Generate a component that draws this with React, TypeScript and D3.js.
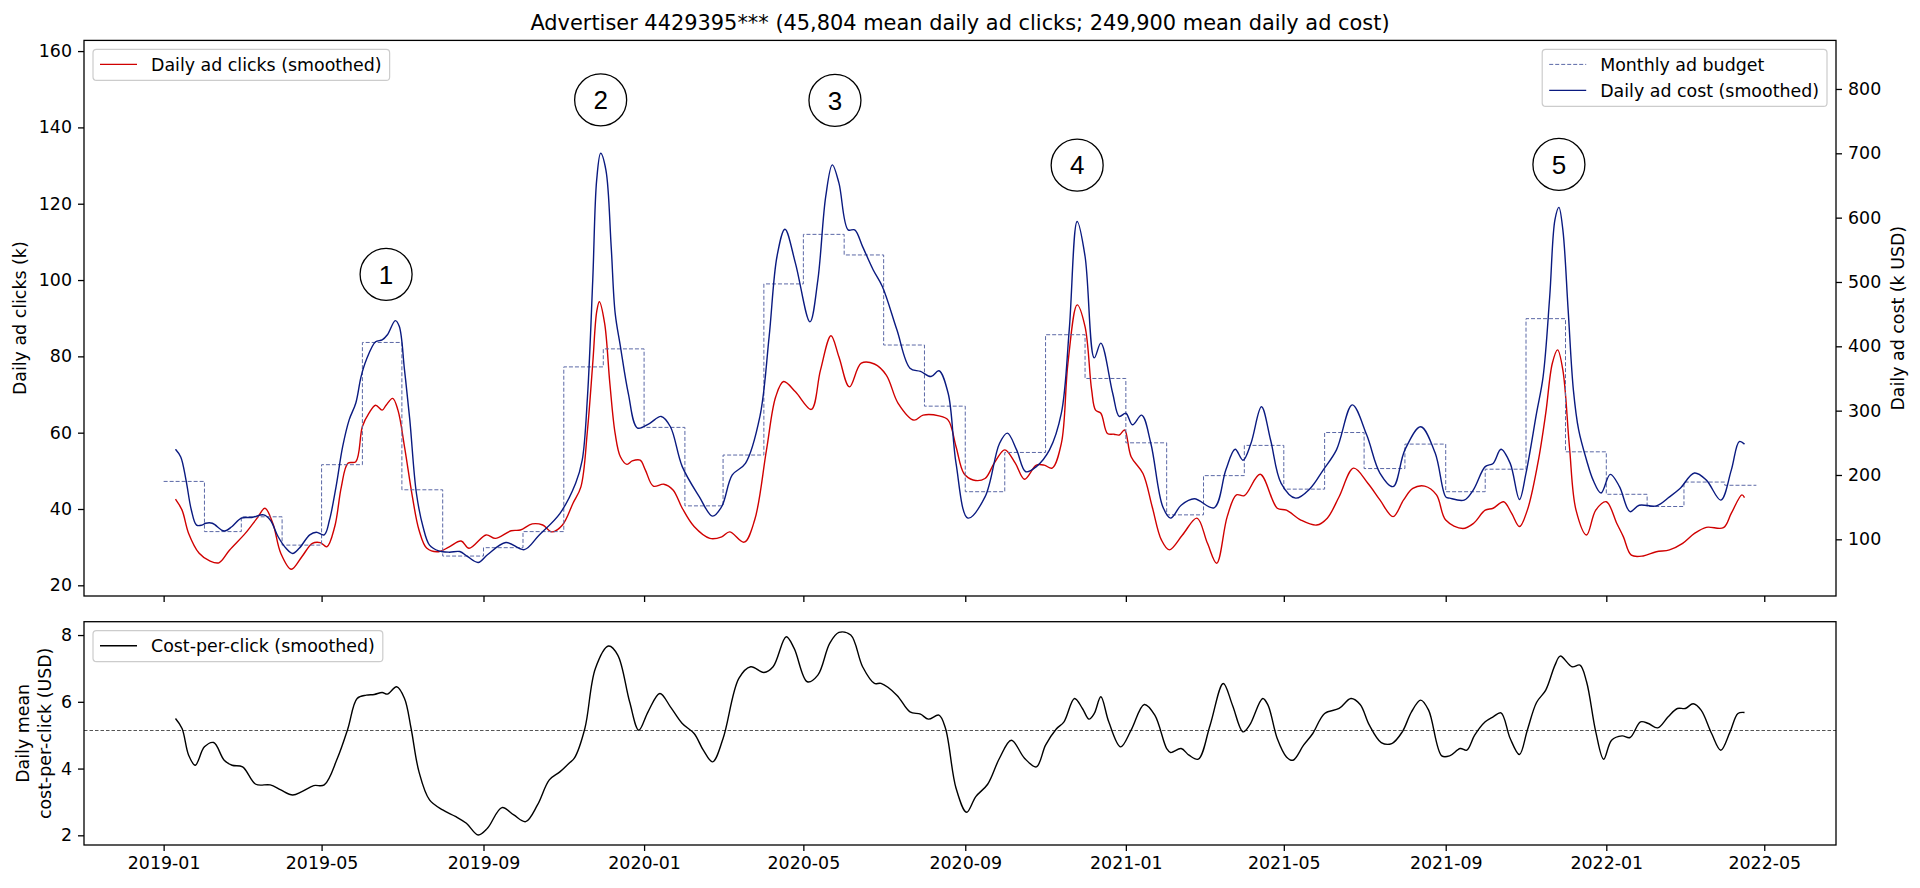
import React, { useEffect, useRef } from 'react';
import * as d3 from 'd3';

const TITLE = 'Advertiser 4429395*** (45,804 mean daily ad clicks; 249,900 mean daily ad cost)';

// daily ad clicks (k), smoothed - left axis
const clicksSmoothed: [string, number][] = [
  ['2019-01-10', 42.6], ['2019-01-15', 39.7], ['2019-01-20', 33.6], ['2019-01-28', 28.4], ['2019-02-05', 26.4],
  ['2019-02-12', 25.9], ['2019-02-20', 29.2], ['2019-03-04', 33.6], ['2019-03-13', 37.6], ['2019-03-19', 40.2],
  ['2019-03-25', 36.2], ['2019-03-31', 28.4], ['2019-04-08', 24.2], ['2019-04-16', 27.5], ['2019-04-24', 31.0],
  ['2019-04-30', 31.2], ['2019-05-05', 30.1], ['2019-05-11', 35.4], ['2019-05-16', 45.8], ['2019-05-21', 52.0],
  ['2019-05-27', 52.4], ['2019-06-01', 61.6], ['2019-06-06', 65.1], ['2019-06-11', 67.2], ['2019-06-16', 65.9],
  ['2019-06-19', 67.2], ['2019-06-24', 69.0], ['2019-06-28', 65.9], ['2019-07-03', 56.3], ['2019-07-09', 43.2],
  ['2019-07-14', 34.5], ['2019-07-20', 29.7], ['2019-07-29', 28.8], ['2019-08-06', 30.1], ['2019-08-15', 31.6],
  ['2019-08-21', 29.7], ['2019-09-03', 33.2], ['2019-09-10', 32.3], ['2019-09-22', 34.3], ['2019-09-29', 34.5],
  ['2019-10-08', 36.1], ['2019-10-16', 35.8], ['2019-10-23', 34.0], ['2019-10-31', 35.8], ['2019-11-08', 41.5],
  ['2019-11-14', 45.8], ['2019-11-19', 60.7], ['2019-11-23', 78.2], ['2019-11-26', 91.7], ['2019-11-28', 94.3],
  ['2019-12-02', 88.7], ['2019-12-06', 72.9], ['2019-12-10', 59.8], ['2019-12-14', 53.7], ['2019-12-19', 51.7],
  ['2019-12-23', 52.6], ['2019-12-29', 52.8], ['2020-01-02', 50.2], ['2020-01-08', 46.0], ['2020-01-16', 46.5],
  ['2020-01-23', 45.0], ['2020-01-30', 40.2], ['2020-02-08', 35.4], ['2020-02-20', 32.3], ['2020-02-29', 32.7],
  ['2020-03-06', 34.0], ['2020-03-17', 31.3], ['2020-03-25', 37.1], ['2020-04-03', 55.5], ['2020-04-10', 69.4],
  ['2020-04-16', 73.4], ['2020-04-25', 70.7], ['2020-05-07', 66.1], ['2020-05-14', 76.4], ['2020-05-22', 85.4],
  ['2020-05-28', 79.9], ['2020-06-05', 72.0], ['2020-06-14', 78.2], ['2020-06-24', 78.0], ['2020-07-03', 75.1],
  ['2020-07-12', 67.7], ['2020-07-24', 63.3], ['2020-07-31', 64.6], ['2020-08-12', 64.4], ['2020-08-19', 63.3],
  ['2020-08-25', 56.3], ['2020-08-31', 49.3], ['2020-09-07', 47.6], ['2020-09-16', 48.0], ['2020-09-23', 52.0],
  ['2020-10-01', 55.5], ['2020-10-09', 52.0], ['2020-10-16', 47.8], ['2020-10-25', 51.5], ['2020-10-31', 51.5],
  ['2020-11-06', 50.7], ['2020-11-13', 57.2], ['2020-11-18', 78.2], ['2020-11-25', 93.5], ['2020-12-01', 87.8],
  ['2020-12-06', 71.2], ['2020-12-09', 65.9], ['2020-12-13', 65.1], ['2020-12-18', 59.8], ['2020-12-23', 59.6],
  ['2020-12-27', 59.4], ['2020-12-31', 60.7], ['2021-01-05', 53.7], ['2021-01-14', 49.3], ['2021-01-21', 40.6],
  ['2021-01-28', 31.9], ['2021-02-03', 29.3], ['2021-02-13', 33.2], ['2021-02-24', 37.6], ['2021-03-04', 31.0],
  ['2021-03-11', 25.8], ['2021-03-19', 38.0], ['2021-03-26', 43.7], ['2021-04-01', 43.5], ['2021-04-13', 49.1],
  ['2021-04-26', 40.2], ['2021-05-03', 39.7], ['2021-05-14', 37.1], ['2021-05-26', 35.8], ['2021-06-03', 37.6],
  ['2021-06-12', 43.2], ['2021-06-23', 50.7], ['2021-07-04', 46.7], ['2021-07-13', 42.4], ['2021-07-23', 38.0],
  ['2021-07-31', 42.4], ['2021-08-07', 45.4], ['2021-08-16', 46.0], ['2021-08-25', 43.7], ['2021-09-01', 37.1],
  ['2021-09-14', 34.9], ['2021-09-22', 36.2], ['2021-10-01', 39.7], ['2021-10-07', 40.2], ['2021-10-15', 41.9],
  ['2021-10-21', 38.9], ['2021-10-27', 35.4], ['2021-11-02', 39.7], ['2021-11-10', 52.0], ['2021-11-16', 65.1],
  ['2021-11-21', 78.2], ['2021-11-25', 81.7], ['2021-11-29', 76.4], ['2021-12-04', 56.3], ['2021-12-09', 39.7],
  ['2021-12-17', 33.2], ['2021-12-24', 39.7], ['2022-01-01', 41.9], ['2022-01-09', 36.2], ['2022-01-14', 32.7],
  ['2022-01-20', 27.9], ['2022-01-29', 27.7], ['2022-02-08', 28.8], ['2022-02-18', 29.3], ['2022-02-28', 31.0],
  ['2022-03-09', 33.6], ['2022-03-18', 35.2], ['2022-03-31', 35.1], ['2022-04-06', 38.9], ['2022-04-14', 43.7],
  ['2022-04-16', 43.0],
];

// daily ad cost (k USD), smoothed - right axis
const costSmoothed: [string, number][] = [
  ['2019-01-10', 240], ['2019-01-14', 228], ['2019-01-18', 192], ['2019-01-22', 146], ['2019-01-26', 122],
  ['2019-01-30', 122], ['2019-02-02', 125], ['2019-02-07', 125], ['2019-02-16', 113], ['2019-02-22', 120],
  ['2019-03-01', 133], ['2019-03-09', 134], ['2019-03-18', 138], ['2019-03-23', 130], ['2019-03-29', 104],
  ['2019-04-04', 86], ['2019-04-09', 78], ['2019-04-14', 86], ['2019-04-22', 107], ['2019-04-27', 111],
  ['2019-05-03', 107], ['2019-05-07', 130], ['2019-05-12', 182], ['2019-05-17', 244], ['2019-05-22', 286],
  ['2019-05-27', 312], ['2019-05-31', 353], ['2019-06-04', 379], ['2019-06-11', 407], ['2019-06-16', 410],
  ['2019-06-20', 418], ['2019-06-26', 440], ['2019-06-29', 431], ['2019-07-03', 363], ['2019-07-07', 286],
  ['2019-07-12', 172], ['2019-07-17', 120], ['2019-07-22', 91], ['2019-07-29', 82], ['2019-08-06', 80],
  ['2019-08-14', 81], ['2019-08-20', 73], ['2019-08-28', 64], ['2019-09-04', 76], ['2019-09-18', 95],
  ['2019-10-02', 84], ['2019-10-13', 106], ['2019-10-29', 140], ['2019-11-10', 187], ['2019-11-15', 223],
  ['2019-11-19', 322], ['2019-11-23', 503], ['2019-11-26', 659], ['2019-11-29', 700], ['2019-12-03', 674],
  ['2019-12-07', 555], ['2019-12-10', 452], ['2019-12-14', 400], ['2019-12-20', 327], ['2019-12-27', 273],
  ['2020-01-05', 280], ['2020-01-14', 291], ['2020-01-21', 275], ['2020-01-30', 213], ['2020-02-12', 166],
  ['2020-02-22', 136], ['2020-02-29', 151], ['2020-03-08', 200], ['2020-03-18', 218], ['2020-03-29', 291],
  ['2020-04-05', 415], ['2020-04-11', 540], ['2020-04-17', 582], ['2020-04-25', 529], ['2020-05-06', 438],
  ['2020-05-12', 503], ['2020-05-18', 633], ['2020-05-23', 682], ['2020-05-28', 654], ['2020-06-04', 581],
  ['2020-06-09', 581], ['2020-06-15', 555], ['2020-06-23', 519], ['2020-06-30', 493], ['2020-07-11', 426],
  ['2020-07-21', 366], ['2020-07-29', 361], ['2020-08-06', 353], ['2020-08-12', 362], ['2020-08-19', 327],
  ['2020-08-25', 218], ['2020-09-03', 133], ['2020-09-16', 166], ['2020-09-27', 249], ['2020-10-03', 265],
  ['2020-10-10', 239], ['2020-10-17', 205], ['2020-10-25', 213], ['2020-11-04', 239], ['2020-11-13', 296],
  ['2020-11-19', 426], ['2020-11-25', 594], ['2020-12-01', 540], ['2020-12-08', 382], ['2020-12-13', 405],
  ['2020-12-22', 327], ['2020-12-27', 291], ['2021-01-01', 296], ['2021-01-06', 278], ['2021-01-13', 293],
  ['2021-01-20', 249], ['2021-01-29', 151], ['2021-02-04', 133], ['2021-02-12', 153], ['2021-02-22', 163],
  ['2021-03-09', 149], ['2021-03-18', 208], ['2021-03-25', 240], ['2021-03-31', 223], ['2021-04-06', 249],
  ['2021-04-14', 306], ['2021-04-21', 254], ['2021-04-29', 187], ['2021-05-10', 164], ['2021-05-21', 179],
  ['2021-05-31', 208], ['2021-06-10', 239], ['2021-06-22', 309], ['2021-07-03', 262], ['2021-07-13', 203],
  ['2021-07-23', 182], ['2021-08-01', 239], ['2021-08-13', 275], ['2021-08-24', 234], ['2021-09-01', 166],
  ['2021-09-04', 164], ['2021-09-15', 161], ['2021-09-22', 177], ['2021-10-01', 213], ['2021-10-07', 218],
  ['2021-10-13', 240], ['2021-10-20', 218], ['2021-10-27', 162], ['2021-11-01', 203], ['2021-11-09', 296],
  ['2021-11-14', 353], ['2021-11-19', 477], ['2021-11-23', 597], ['2021-11-26', 616], ['2021-11-29', 581],
  ['2021-12-03', 457], ['2021-12-07', 332], ['2021-12-11', 270], ['2021-12-17', 223], ['2021-12-22', 192],
  ['2021-12-28', 172], ['2022-01-04', 201], ['2022-01-11', 182], ['2022-01-19', 143], ['2022-01-26', 153],
  ['2022-02-08', 152], ['2022-02-18', 166], ['2022-02-26', 179], ['2022-03-09', 203], ['2022-03-18', 192],
  ['2022-03-29', 161], ['2022-04-06', 208], ['2022-04-12', 252], ['2022-04-16', 248],
];

// daily mean cost-per-click (USD), smoothed - lower panel
const cpcSmoothed: [string, number][] = [
  ['2019-01-10', 5.50], ['2019-01-15', 5.20], ['2019-01-20', 4.40], ['2019-01-25', 4.10], ['2019-02-01', 4.65],
  ['2019-02-08', 4.78], ['2019-02-16', 4.25], ['2019-02-22', 4.10], ['2019-03-02', 4.05], ['2019-03-12', 3.53],
  ['2019-03-23', 3.51], ['2019-03-31', 3.36], ['2019-04-09', 3.21], ['2019-04-16', 3.31], ['2019-04-25', 3.49],
  ['2019-05-03', 3.51], ['2019-05-13', 4.31], ['2019-05-21', 5.20], ['2019-05-28', 6.10], ['2019-06-04', 6.20],
  ['2019-06-10', 6.22], ['2019-06-16', 6.28], ['2019-06-20', 6.23], ['2019-06-27', 6.45], ['2019-07-03', 6.10],
  ['2019-07-08', 5.20], ['2019-07-14', 3.90], ['2019-07-22', 3.06], ['2019-08-01', 2.76], ['2019-08-11', 2.56],
  ['2019-08-19', 2.36], ['2019-08-28', 2.01], ['2019-09-04', 2.21], ['2019-09-15', 2.83], ['2019-09-24', 2.61],
  ['2019-10-03', 2.41], ['2019-10-12', 2.91], ['2019-10-21', 3.66], ['2019-10-29', 3.90], ['2019-11-05', 4.16],
  ['2019-11-09', 4.31], ['2019-11-17', 5.20], ['2019-11-25', 7.00], ['2019-12-05', 7.67], ['2019-12-12', 7.40],
  ['2019-12-21', 6.00], ['2019-12-28', 5.15], ['2020-01-04', 5.70], ['2020-01-13', 6.25], ['2020-01-21', 5.85],
  ['2020-01-30', 5.35], ['2020-02-08', 5.05], ['2020-02-15', 4.55], ['2020-02-22', 4.20], ['2020-03-01', 4.90],
  ['2020-03-13', 6.70], ['2020-03-22', 7.05], ['2020-04-01', 6.88], ['2020-04-08', 7.05], ['2020-04-18', 7.95],
  ['2020-04-24', 7.60], ['2020-05-04', 6.60], ['2020-05-12', 6.80], ['2020-05-21', 7.75], ['2020-05-28', 8.08],
  ['2020-06-06', 8.00], ['2020-06-15', 7.05], ['2020-06-24', 6.55], ['2020-06-29', 6.55], ['2020-07-11', 6.20],
  ['2020-07-21', 5.70], ['2020-07-29', 5.63], ['2020-08-04', 5.48], ['2020-08-12', 5.60], ['2020-08-17', 5.20],
  ['2020-08-25', 3.41], ['2020-09-02', 2.69], ['2020-09-09', 3.16], ['2020-09-18', 3.53], ['2020-09-27', 4.31],
  ['2020-10-06', 4.85], ['2020-10-16', 4.31], ['2020-10-25', 4.05], ['2020-11-01', 4.70], ['2020-11-09', 5.18],
  ['2020-11-15', 5.40], ['2020-11-23', 6.10], ['2020-11-29', 5.80], ['2020-12-04', 5.48], ['2020-12-08', 5.65],
  ['2020-12-13', 6.15], ['2020-12-19', 5.40], ['2020-12-28', 4.65], ['2021-01-05', 5.15], ['2021-01-15', 5.92],
  ['2021-01-23', 5.60], ['2021-02-01', 4.60], ['2021-02-04', 4.48], ['2021-02-12', 4.60], ['2021-02-18', 4.40],
  ['2021-02-25', 4.28], ['2021-03-06', 5.30], ['2021-03-16', 6.55], ['2021-03-23', 5.90], ['2021-03-31', 5.10],
  ['2021-04-05', 5.30], ['2021-04-15', 6.10], ['2021-04-19', 5.90], ['2021-04-26', 4.90], ['2021-05-03', 4.35],
  ['2021-05-08', 4.25], ['2021-05-16', 4.70], ['2021-05-23', 5.05], ['2021-06-01', 5.65], ['2021-06-12', 5.80],
  ['2021-06-21', 6.10], ['2021-06-28', 5.92], ['2021-07-05', 5.30], ['2021-07-14', 4.78], ['2021-07-22', 4.75],
  ['2021-07-30', 5.10], ['2021-08-06', 5.70], ['2021-08-13', 6.05], ['2021-08-19', 5.75], ['2021-08-29', 4.38],
  ['2021-09-04', 4.38], ['2021-09-12', 4.60], ['2021-09-17', 4.55], ['2021-09-23', 5.00], ['2021-10-01', 5.40],
  ['2021-10-07', 5.55], ['2021-10-13', 5.67], ['2021-10-20', 4.90], ['2021-10-27', 4.42], ['2021-11-02', 5.15],
  ['2021-11-09', 5.98], ['2021-11-16', 6.35], ['2021-11-23', 7.10], ['2021-11-27', 7.37], ['2021-12-06', 7.05],
  ['2021-12-12', 7.10], ['2021-12-17', 6.60], ['2021-12-24', 5.10], ['2021-12-30', 4.28], ['2022-01-05', 4.85],
  ['2022-01-13', 4.98], ['2022-01-19', 4.93], ['2022-01-27', 5.40], ['2022-02-02', 5.35], ['2022-02-09', 5.22],
  ['2022-02-17', 5.55], ['2022-02-24', 5.80], ['2022-03-02', 5.80], ['2022-03-08', 5.94], ['2022-03-14', 5.75],
  ['2022-03-22', 5.05], ['2022-03-29', 4.55], ['2022-04-05', 5.10], ['2022-04-11', 5.65], ['2022-04-16', 5.68],
];

// monthly ad budget (k USD per day), one value per month from budgetStart
const budgetStart = '2019-01-01';
const budgetEnd = '2022-04-25';
const budgetValues = [
  190, 112, 135, 91, 216, 406, 177, 74, 87, 112, 368, 396,
  274, 152, 231, 497, 574, 542, 402, 307, 174, 235, 418, 350,
  250, 138, 199, 246, 178, 266, 210, 248, 174, 209, 443, 236,
  170, 151, 189, 184,
];

const cpcMean = 5.14;

const xTickLabels = ['2019-01', '2019-05', '2019-09', '2020-01', '2020-05', '2020-09', '2021-01', '2021-05', '2021-09', '2022-01', '2022-05'];
const clickTicks = [20, 40, 60, 80, 100, 120, 140, 160];
const costTicks = [100, 200, 300, 400, 500, 600, 700, 800];
const cpcTicks = [2, 4, 6, 8];

// numbered event markers (date, height on the clicks axis)
const eventLabels = ['1', '2', '3', '4', '5'];
const eventDates = ['2019-06-19', '2019-11-29', '2020-05-25', '2020-11-25', '2021-11-26'];
const eventHeights = [101.5, 147.2, 147.1, 130.1, 130.3];

const W = 1920;
const H = 888;
const FONT = '"DejaVu Sans", sans-serif';
const FS = 17.4;

const App: React.FC = () => {
  const svgRef = useRef<SVGSVGElement | null>(null);

  useEffect(() => {
    if (!svgRef.current) return;
    const svg = d3.select(svgRef.current);
    svg.selectAll('*').remove();

    const parse = d3.utcParse('%Y-%m-%d');
    const toPts = (rows: [string, number][]) => rows.map(([d, v]) => [parse(d)!, v] as [Date, number]);

    const left = 84, right = 1836;
    const top1 = 40.4, bot1 = 596;
    const top2 = 621.7, bot2 = 845;

    // budget steps, x-range padded 5% like matplotlib
    const bStart = parse(budgetStart)!;
    const bEnd = parse(budgetEnd)!;
    const budgetPts: [Date, number][] = budgetValues.map((v, i) => [d3.utcMonth.offset(bStart, i), v]);
    budgetPts.push([bEnd, budgetValues[budgetValues.length - 1]]);
    const span = +bEnd - +bStart;

    const x = d3.scaleUtc()
      .domain([new Date(+bStart - 0.05 * span), new Date(+bEnd + 0.05 * span)])
      .range([left, right]);
    const yClicks = d3.scaleLinear().domain([17.2, 162.8]).range([bot1, top1]);
    const yCost = d3.scaleLinear().domain([11.9, 875.5]).range([bot1, top1]);
    const yCpc = d3.scaleLinear().domain([1.71, 8.4]).range([bot2, top2]);

    svg.append('rect').attr('width', W).attr('height', H).attr('fill', '#fff');

    // title
    svg.append('text')
      .attr('x', (left + right) / 2).attr('y', 29.5)
      .attr('text-anchor', 'middle')
      .attr('font-family', FONT).attr('font-size', 20.9)
      .text(TITLE);

    const mkLine = (y: d3.ScaleLinear<number, number>) => d3.line<[Date, number]>()
      .x(d => x(d[0]))
      .y(d => y(d[1]))
      .curve(d3.curveCatmullRom.alpha(0.5));

    // clicks (primary axis, drawn first)
    svg.append('path')
      .datum(toPts(clicksSmoothed))
      .attr('d', mkLine(yClicks))
      .attr('fill', 'none').attr('stroke', '#d00000').attr('stroke-width', 1.4);

    // budget (twin axis)
    svg.append('path')
      .datum(budgetPts)
      .attr('d', d3.line<[Date, number]>().x(d => x(d[0])).y(d => yCost(d[1])).curve(d3.curveStepAfter))
      .attr('fill', 'none').attr('stroke', '#5b68a6').attr('stroke-width', 1).attr('stroke-dasharray', '4,2');

    svg.append('path')
      .datum(toPts(costSmoothed))
      .attr('d', mkLine(yCost))
      .attr('fill', 'none').attr('stroke', '#0a1a80').attr('stroke-width', 1.4);

    // cpc panel
    svg.append('line')
      .attr('x1', left).attr('x2', right)
      .attr('y1', yCpc(cpcMean)).attr('y2', yCpc(cpcMean))
      .attr('stroke', '#555').attr('stroke-width', 1).attr('stroke-dasharray', '3.5,2');

    svg.append('path')
      .datum(toPts(cpcSmoothed))
      .attr('d', mkLine(yCpc))
      .attr('fill', 'none').attr('stroke', '#000').attr('stroke-width', 1.4);

    // axes
    const styleAxis = (g: d3.Selection<SVGGElement, unknown, null, undefined>) => {
      g.select('.domain').remove();
      g.attr('font-family', FONT).attr('font-size', FS);
      g.selectAll('line').attr('stroke', '#000').attr('stroke-width', 1.3);
      g.selectAll('text').attr('fill', '#000');
    };
    const xTicks = xTickLabels.map(s => d3.utcParse('%Y-%m')(s)!);
    const intFmt = d3.format('d');

    svg.append('g').attr('transform', `translate(0,${bot1})`)
      .call(d3.axisBottom(x).tickValues(xTicks).tickFormat(() => '').tickSize(6).tickSizeOuter(0))
      .call(styleAxis);
    svg.append('g').attr('transform', `translate(0,${bot2})`)
      .call(d3.axisBottom(x).tickValues(xTicks).tickFormat(d3.utcFormat('%Y-%m') as any).tickSize(6).tickPadding(6).tickSizeOuter(0))
      .call(styleAxis);
    svg.append('g').attr('transform', `translate(${left},0)`)
      .call(d3.axisLeft(yClicks).tickValues(clickTicks).tickFormat(intFmt as any).tickSize(6).tickPadding(6).tickSizeOuter(0))
      .call(styleAxis);
    svg.append('g').attr('transform', `translate(${right},0)`)
      .call(d3.axisRight(yCost).tickValues(costTicks).tickFormat(intFmt as any).tickSize(6).tickPadding(6).tickSizeOuter(0))
      .call(styleAxis);
    svg.append('g').attr('transform', `translate(${left},0)`)
      .call(d3.axisLeft(yCpc).tickValues(cpcTicks).tickFormat(intFmt as any).tickSize(6).tickPadding(6).tickSizeOuter(0))
      .call(styleAxis);

    // frames
    [[top1, bot1], [top2, bot2]].forEach(([t, b]) => {
      svg.append('rect')
        .attr('x', left).attr('y', t).attr('width', right - left).attr('height', b - t)
        .attr('fill', 'none').attr('stroke', '#000').attr('stroke-width', 1.3);
    });

    // axis labels
    const yLabel = (cx: number, cy: number, text: string) => {
      svg.append('text')
        .attr('transform', `translate(${cx},${cy}) rotate(-90)`)
        .attr('dy', '0.35em')
        .attr('text-anchor', 'middle')
        .attr('font-family', FONT).attr('font-size', FS)
        .text(text);
    };
    yLabel(20, (top1 + bot1) / 2, 'Daily ad clicks (k)');
    yLabel(1898, (top1 + bot1) / 2, 'Daily ad cost (k USD)');
    yLabel(23, (top2 + bot2) / 2, 'Daily mean');
    yLabel(45, (top2 + bot2) / 2, 'cost-per-click (USD)');

    // legends
    type Item = { label: string; color: string; dash?: string };
    const legend = (bx: number, by: number, items: Item[], anchorRight: boolean) => {
      const g = svg.append('g');
      const box = g.append('rect');
      const rowH = 26;
      const texts: SVGTextElement[] = [];
      items.forEach((it, i) => {
        const cy = by + 15 + i * rowH;
        g.append('line')
          .attr('x1', 7).attr('x2', 44).attr('y1', cy).attr('y2', cy)
          .attr('stroke', it.color).attr('stroke-width', it.dash ? 1 : 1.4)
          .attr('stroke-dasharray', it.dash ?? null);
        const t = g.append('text')
          .attr('x', 58).attr('y', cy + 6.2)
          .attr('font-family', FONT).attr('font-size', FS).attr('fill', '#000')
          .text(it.label);
        texts.push(t.node()!);
      });
      const tw = d3.max(texts, t => t.getComputedTextLength()) ?? 0;
      const bw = 58 + tw + 8;
      const bh = items.length * rowH + 5;
      box.attr('x', 0).attr('y', by).attr('width', bw).attr('height', bh)
        .attr('rx', 3.5).attr('fill', '#fff').attr('fill-opacity', 0.8)
        .attr('stroke', '#ccc').attr('stroke-width', 1.2);
      g.attr('transform', `translate(${anchorRight ? bx - bw : bx},0)`);
    };
    legend(left + 9, top1 + 9, [{ label: 'Daily ad clicks (smoothed)', color: '#d00000' }], false);
    legend(right - 9, top1 + 9, [
      { label: 'Monthly ad budget', color: '#5b68a6', dash: '4,2' },
      { label: 'Daily ad cost (smoothed)', color: '#0a1a80' },
    ], true);
    legend(left + 9, top2 + 9, [{ label: 'Cost-per-click (smoothed)', color: '#000' }], false);

    // numbered event markers
    eventLabels.forEach((lab, i) => {
      const cx = x(parse(eventDates[i])!);
      const cy = yClicks(eventHeights[i]);
      svg.append('circle')
        .attr('cx', cx).attr('cy', cy).attr('r', 26)
        .attr('fill', '#fff').attr('stroke', '#000').attr('stroke-width', 1.3);
      svg.append('text')
        .attr('x', cx).attr('y', cy + 9.3)
        .attr('text-anchor', 'middle')
        .attr('font-family', '"Liberation Sans", Arial, sans-serif').attr('font-size', 26)
        .text(lab);
    });
  }, []);

  return (
    <svg
      ref={svgRef}
      width={W}
      height={H}
      style={{ position: 'absolute', left: 0, top: 0, display: 'block' }}
    />
  );
};

export default App;
